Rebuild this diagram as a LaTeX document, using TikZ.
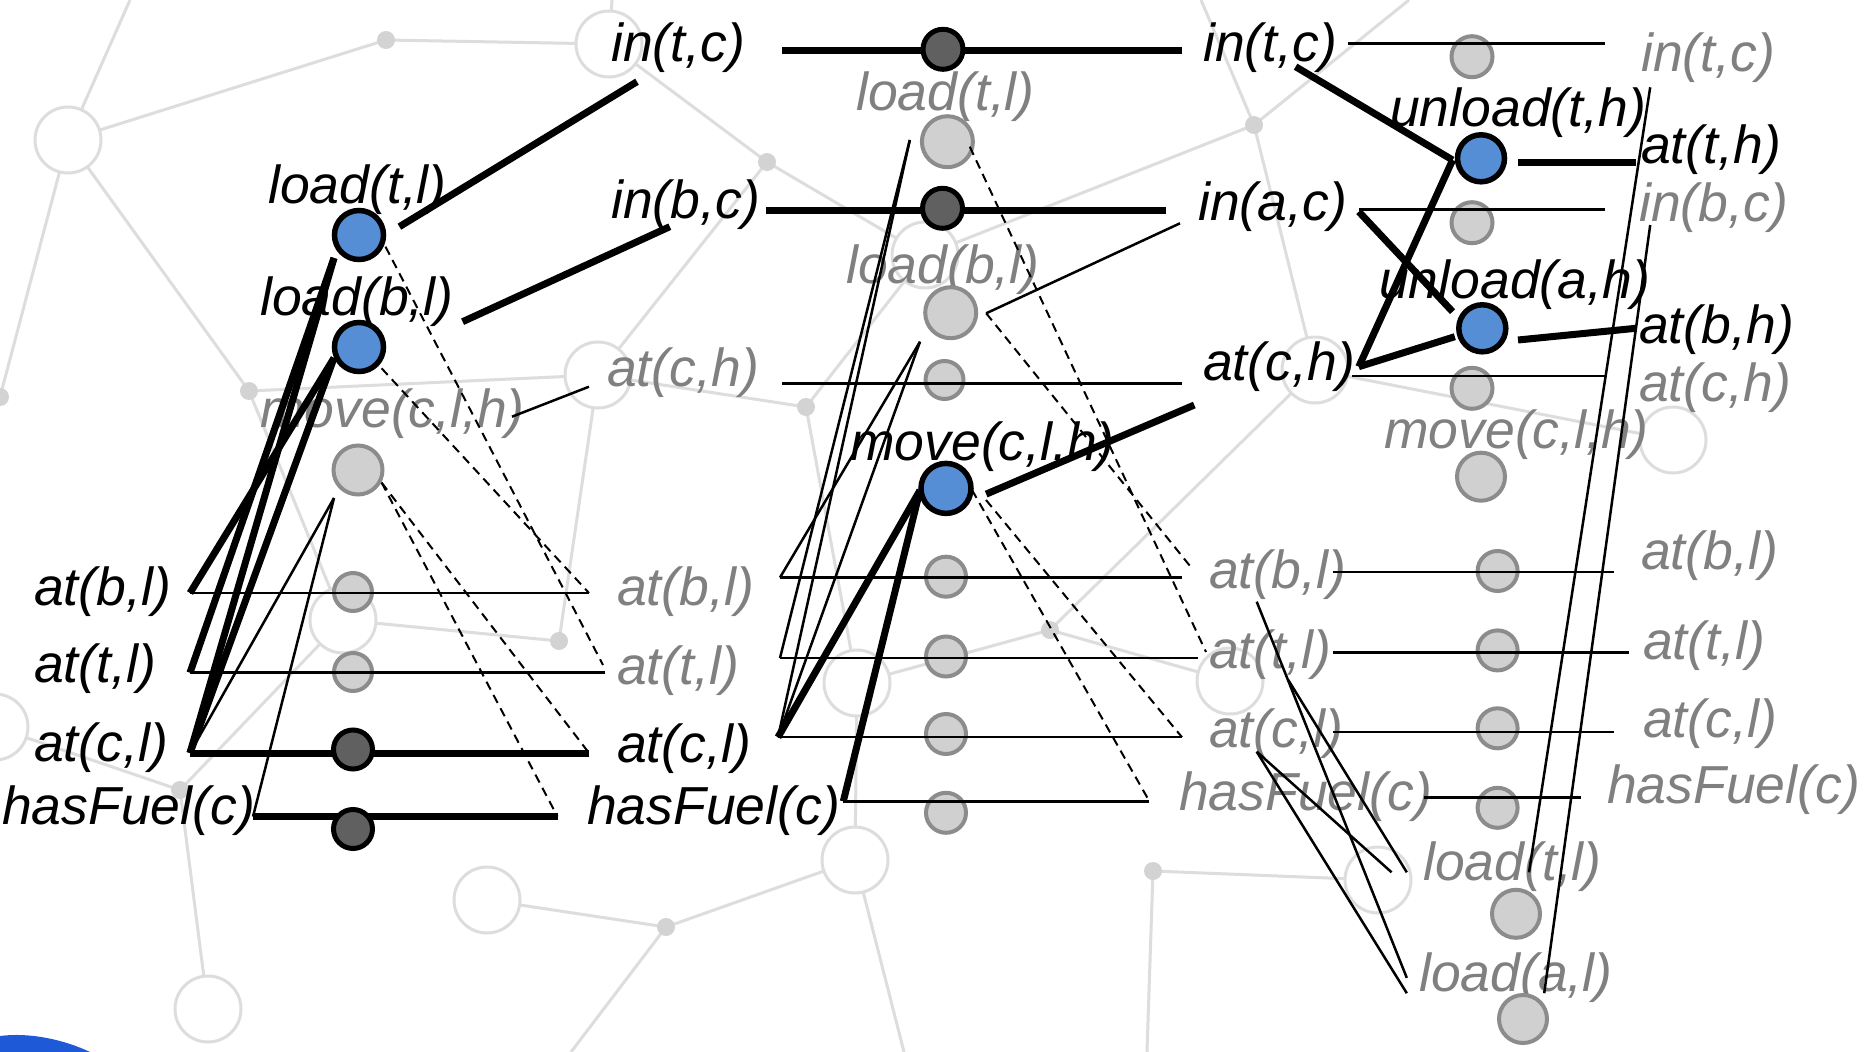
\documentclass[tikz,border=0pt]{standalone}
\usepackage{fontspec}
\setmainfont{Liberation Sans}
\usetikzlibrary{calc}
\definecolor{blueF}{RGB}{85,142,213}
\definecolor{darkF}{RGB}{96,96,96}
\definecolor{grayF}{RGB}{208,208,208}
\definecolor{grayD}{RGB}{140,140,140}
\definecolor{txtG}{RGB}{128,128,128}
\definecolor{bgC}{RGB}{221,221,221}
\definecolor{bgDot}{RGB}{211,211,211}
\definecolor{cornerBlue}{RGB}{30,90,215}
\pgfdeclarelayer{bglayer}
\pgfdeclarelayer{fglayer}
\pgfsetlayers{bglayer,main,fglayer}
\newcommand\labfont{\fontsize{53.5}{64}\selectfont\itshape}
\begin{document}
\begin{tikzpicture}[x=1pt,y=-1pt,
  lbl/.style={font=\labfont, inner sep=0pt, anchor=base west, text=black},
  glbl/.style={lbl, text=txtG},
  bluec/.style={circle, draw=black, line width=5.5pt, fill=blueF, inner sep=0pt, minimum size=#1},
  darkc/.style={circle, draw=black, line width=5pt, fill=darkF, inner sep=0pt, minimum size=#1},
  grayc/.style={circle, draw=grayD, line width=4pt, fill=grayF, inner sep=0pt, minimum size=#1},
  edgeK/.style={line width=7pt},
  edgeT/.style={line width=2.5pt},
  edgeD/.style={line width=2pt, dash pattern=on 9pt off 6pt},
  bgline/.style={draw=bgC, line width=3pt},
  bgcirc/.style={circle, draw=bgC, line width=3pt, fill=white, inner sep=0pt, minimum size=66pt},
  bgdot/.style={circle, fill=bgDot, inner sep=0pt, minimum size=18pt}
]
\useasboundingbox (0,0) rectangle (1864,1052);

% ---------------- background network ----------------
\begin{pgfonlayer}{bglayer}
\begin{scope}
\clip (0,0) rectangle (1864,1052);
\fill[white] (0,0) rectangle (1864,1052);
\coordinate (bA) at (68,140);
\coordinate (bB) at (386,40);
\coordinate (bC) at (609,44);
\coordinate (bD) at (249,391);
\coordinate (bE) at (598,375);
\coordinate (bF) at (767,162);
\coordinate (bG) at (925,255);
\coordinate (bH) at (806,407);
\coordinate (bI) at (343,620);
\coordinate (bJ) at (559,641);
\coordinate (bK) at (180,790);
\coordinate (bL) at (-5,727);
\coordinate (bM) at (208,1009);
\coordinate (bN) at (487,900);
\coordinate (bO) at (666,927);
\coordinate (bP) at (855,860);
\coordinate (bQ) at (857,683);
\coordinate (bR) at (1050,630);
\coordinate (bS) at (1254,125);
\coordinate (bT) at (1315,370);
\coordinate (bU) at (1673,440);
\coordinate (bV) at (1230,681);
\coordinate (bW) at (1153,871);
\coordinate (bY) at (1378,880);
\coordinate (bX) at (0,397);
\coordinate (bt1) at (130,0);
\coordinate (bt2) at (612,0);
\coordinate (bt3) at (1201,0);
\coordinate (bt4) at (1409,0);
\coordinate (bb1) at (571,1052);
\coordinate (bb2) at (904,1052);
\coordinate (bb3) at (1147,1052);
\path[bgline] (bt1)--(bA) (bA)--(bB) (bB)--(bC) (bA)--(bX) (bA)--(bD) (bD)--(bE)
  (bD)--(bI) (bI)--(bJ) (bJ)--(bE) (bE)--(bH) (bI)--(bK) (bL)--(bK) (bK)--(bM)
  (bN)--(bO) (bO)--(bP) (bO)--(bb1) (bP)--(bb2) (bH)--(bQ) (bQ)--(bR) (bQ)--(bP)
  (bC)--(bF) (bF)--(bE) (bF)--(bG) (bG)--(bH) (bG)--(bS) (bS)--(bt3) (bS)--(bt4)
  (bS)--(bT) (bT)--(bU) (bR)--(bT) (bR)--(bV) (bW)--(bY) (bW)--(bb3) (bt2)--(bC);
\foreach \c in {bA,bC,bE,bG,bI,bL,bM,bN,bP,bQ,bT,bU,bV,bY}
  \node[bgcirc] at (\c) {};
\foreach \c in {bB,bD,bF,bH,bJ,bK,bO,bR,bS,bW,bX}
  \node[bgdot] at (\c) {};
\fill[cornerBlue] (0,1052) -- (0,1036) .. controls (30,1032) and (65,1040) .. (90,1052) -- cycle;
\end{scope}
\end{pgfonlayer}

% ---------------- labels ----------------
% column 1
\node[lbl]  (l1-lt) at (268,203)   {load(t,l)};
\node[lbl]  (l1-lb) at (260,315)   {load(b,l)};
\node[glbl] (l1-mv) at (260,427)   {move(c,l,h)};
\node[lbl]  (p1-bl) at (34,605.5)  {at(b,l)};
\node[lbl]  (p1-tl) at (34,682.3)  {at(t,l)};
\node[lbl]  (p1-cl) at (34,761)    {at(c,l)};
\node[lbl]  (p1-hf) at (2,824.3)   {hasFuel(c)};
% column 2
\node[lbl]  (p2-tc) at (611,61.7)  {in(t,c)};
\node[lbl]  (p2-bc) at (611,218.3) {in(b,c)};
\node[glbl] (p2-ch) at (607,386.7) {at(c,h)};
\node[glbl] (p2-bl) at (617,605.5) {at(b,l)};
\node[glbl] (p2-tl) at (617,684.2) {at(t,l)};
\node[lbl]  (p2-cl) at (617,762.9) {at(c,l)};
\node[lbl]  (p2-hf) at (587,824.3) {hasFuel(c)};
\node[glbl] (l2-lt) at (856,110)   {load(t,l)};
\node[glbl] (l2-lb) at (846,283.3) {load(b,l)};
\node[lbl]  (l2-mv) at (850,460)   {move(c,l,h)};
% column 3
\node[lbl]  (p3-tc) at (1203,61.7)  {in(t,c)};
\node[lbl]  (p3-ac) at (1198,220)   {in(a,c)};
\node[lbl]  (p3-ch) at (1203,380)   {at(c,h)};
\node[glbl] (p3-bl) at (1209,588.2) {at(b,l)};
\node[glbl] (p3-tl) at (1209,668.8) {at(t,l)};
\node[glbl] (p3-cl) at (1209,747.5) {at(c,l)};
\node[glbl] (p3-hf) at (1179,810.9) {hasFuel(c)};
\node[lbl]  (l3-ut) at (1390,126.7) {unload(t,h)};
\node[lbl]  (l3-ua) at (1379,298.3) {unload(a,h)};
\node[glbl] (l3-mv) at (1384,448.3) {move(c,l,h)};
\node[glbl] (l3-lt) at (1423,880)   {load(t,l)};
\node[glbl] (l3-la) at (1419,991.3) {load(a,l)};
% column 4
\node[glbl] (p4-tc) at (1641,71.7)  {in(t,c)};
\node[lbl]  (p4-th) at (1641,163.3) {at(t,h)};
\node[glbl] (p4-bc) at (1639,221.7) {in(b,c)};
\node[lbl]  (p4-bh) at (1639,343.3) {at(b,h)};
\node[glbl] (p4-ch) at (1639,401.7) {at(c,h)};
\node[glbl] (p4-bl) at (1641,569)   {at(b,l)};
\node[glbl] (p4-tl) at (1643,659.2) {at(t,l)};
\node[glbl] (p4-cl) at (1643,737.9) {at(c,l)};
\node[glbl] (p4-hf) at (1607,803.2) {hasFuel(c)};

% ---------------- gray (inactive) circles ----------------
\node[grayc=49pt] (g1-mv) at (358,470) {};
\node[grayc=38pt] (g1-bl) at (353,592) {};
\node[grayc=38pt] (g1-tl) at (353,672) {};
\node[grayc=51pt] (g2-lt) at (947.4,141.7) {};
\node[grayc=51pt] (g2-lb) at (950.7,312.7) {};
\node[grayc=38pt] (g2-ch) at (944.5,380) {};
\node[grayc=40pt] (g2-bl) at (946,576.7) {};
\node[grayc=40pt] (g2-tl) at (946,656.5) {};
\node[grayc=40pt] (g2-cl) at (946,734) {};
\node[grayc=40pt] (g2-hf) at (946,812.8) {};
\node[grayc=41pt] (g3-tc) at (1472,56.7) {};
\node[grayc=41pt] (g3-bc) at (1472,222.7) {};
\node[grayc=41pt] (g3-ch) at (1472,388.3) {};
\node[grayc=48pt] (g3-mv) at (1481,476.7) {};
\node[grayc=40pt] (g3-bl) at (1497.6,571) {};
\node[grayc=40pt] (g3-tl) at (1497.6,650.4) {};
\node[grayc=40pt] (g3-cl) at (1497.6,728.3) {};
\node[grayc=40pt] (g3-hf) at (1497.6,807.8) {};
\node[grayc=48pt] (g3-lt) at (1516,913.8) {};
\node[grayc=48pt] (g3-la) at (1523,1019) {};

% ---------------- active circles (front layer) ----------------
\begin{pgfonlayer}{fglayer}
\node[bluec=49pt] (b1-lt) at (359,235) {};
\node[bluec=49pt] (b1-lb) at (359,347) {};
\node[bluec=50pt] (b2-mv) at (946,488.4) {};
\node[bluec=47pt] (b3-ut) at (1481,158.3) {};
\node[bluec=47pt] (b3-ua) at (1482.3,328.3) {};
\node[darkc=39pt] (d1-cl) at (353,749.5) {};
\node[darkc=39pt] (d1-hf) at (353,829) {};
\node[darkc=40pt] (d2-tc) at (943,49.3) {};
\node[darkc=40pt] (d2-bc) at (942.5,208.3) {};
\end{pgfonlayer}

% ---------------- connector end points ----------------
% column 1
\coordinate (e1-bl-w) at (190,593);    \coordinate (e1-bl-e) at (589,593);
\coordinate (e1-tl-w) at (190,672.7);  \coordinate (e1-tl-e) at (605,672.7);
\coordinate (e1-cl-w) at (190,753);    \coordinate (e1-cl-e) at (589,753);
\coordinate (e1-hf-w) at (253,816.6);  \coordinate (e1-hf-e) at (557.5,816.6);
\coordinate (a1-lt-in) at (334,258);
\coordinate (a1-lb-in) at (334,358);
\coordinate (a1-mv-in) at (334,498);
\coordinate (a1-lt-out) at (399.4,226.7);
\coordinate (a1-lb-out) at (462.6,321.7);
\coordinate (a1-mv-out) at (512,416.7);
\coordinate (a1-lt-del) at (385.5,246.7);
\coordinate (a1-lb-del) at (381.6,368.3);
\coordinate (a1-mv-del) at (381.6,482.6);
\coordinate (d1-tl) at (603,665);
\coordinate (t2-tc) at (637,81.7);
\coordinate (t2-bc) at (669.8,226.7);
\coordinate (t2-ch) at (589,386.7);
% column 2
\coordinate (e2-tc-w) at (782,50);      \coordinate (e2-tc-e) at (1182,50);
\coordinate (e2-bc-w) at (765.7,210);   \coordinate (e2-bc-e) at (1165.8,210);
\coordinate (e2-ch-w) at (782,383.3);   \coordinate (e2-ch-e) at (1182,383.3);
\coordinate (e2-bl-w) at (780,577.5);   \coordinate (e2-bl-e) at (1182,577.5);
\coordinate (e2-tl-w) at (780,658);     \coordinate (e2-tl-e) at (1198.4,658);
\coordinate (e2-cl-w) at (778,737.2);   \coordinate (e2-cl-e) at (1182,737.2);
\coordinate (e2-hf-w) at (843.3,801.3); \coordinate (e2-hf-e) at (1149.4,801.3);
\coordinate (a2-lt-in) at (909.8,140);
\coordinate (a2-lb-in) at (920,341.7);
\coordinate (a2-mv-in) at (920,490.3);
\coordinate (a2-mv-out) at (986.2,494.1);
\coordinate (a2-lb-out) at (986.2,313.3);
\coordinate (a2-lt-del) at (969.8,146.7);
\coordinate (a2-mv-del1) at (972,490);
\coordinate (a2-mv-del2) at (986,500);
\coordinate (d2-tl) at (1206,652);
\coordinate (d2-bl) at (1190,566);
\coordinate (t3-ch) at (1194.3,405);
\coordinate (t3-ac) at (1180,223.3);
% column 3
\coordinate (e3-tc-w) at (1348,43.3);    \coordinate (e3-tc-e) at (1605,43.3);
\coordinate (e3-ac-w) at (1358.8,209.3); \coordinate (e3-ac-e) at (1605,209.3);
\coordinate (e3-ch-w) at (1352.3,376);   \coordinate (e3-ch-e) at (1605,376);
\coordinate (e3-bl-w) at (1332.7,572.1); \coordinate (e3-bl-e) at (1614,572.1);
\coordinate (e3-tl-w) at (1332.7,652.3); \coordinate (e3-tl-e) at (1629.3,652.3);
\coordinate (e3-cl-w) at (1332.7,732.2); \coordinate (e3-cl-e) at (1614,732.2);
\coordinate (e3-hf-w) at (1424.3,797.4); \coordinate (e3-hf-e) at (1581.3,797.4);
\coordinate (s3-tc) at (1295.6,66.7);
\coordinate (s3-ac) at (1358.8,211.7);
\coordinate (s3-ch) at (1358.8,366.7);
\coordinate (a3-ut-in) at (1452.6,160);
\coordinate (a3-ua-in) at (1452.6,311.7);
\coordinate (a3-ua-in2) at (1454.8,336.7);
\coordinate (a3-ut-out) at (1518,162.3);
\coordinate (a3-ua-out) at (1518,340);
\coordinate (t4-th) at (1635.8,162.3);
\coordinate (t4-bh) at (1635.8,328.3);
\coordinate (a3-lt-out) at (1529,872.3);
\coordinate (a3-la-out) at (1544.2,993.2);
\coordinate (t4-tc) at (1650.2,87.3);
\coordinate (t4-bc) at (1650.2,225);
\coordinate (s3-bl) at (1256.7,601.7);
\coordinate (s3-tl) at (1288.3,680);
\coordinate (s3-cl) at (1256.7,751.7);
\coordinate (a3-lt-in) at (1406.8,872.3);
\coordinate (a3-lt-in2) at (1391.6,872.3);
\coordinate (a3-la-in) at (1406.8,977.9);
\coordinate (a3-la-in2) at (1406.8,993.2);

% ---------------- connectors: column 1 ----------------
\draw[edgeT] (e1-bl-w) -- (e1-bl-e);
\draw[edgeT] (e1-tl-w) -- (e1-tl-e);
\draw[edgeK] (e1-cl-w) -- (e1-cl-e);
\draw[edgeK] (e1-hf-w) -- (e1-hf-e);
\draw[edgeK] (e1-bl-w) -- (a1-lb-in);
\draw[edgeK] (e1-cl-w) -- (a1-lb-in);
\draw[edgeK] (e1-tl-w) -- (a1-lt-in);
\draw[edgeK] (e1-cl-w) -- (a1-lt-in);
\draw[edgeT] (e1-cl-w) -- (a1-mv-in);
\draw[edgeT] (e1-hf-w) -- (a1-mv-in);
\draw[edgeD] (a1-lt-del) -- (d1-tl);
\draw[edgeD] (a1-lb-del) -- (e1-bl-e);
\draw[edgeD] (a1-mv-del) -- (e1-cl-e);
\draw[edgeD] (a1-mv-del) -- (e1-hf-e);
\draw[edgeK] (a1-lt-out) -- (t2-tc);
\draw[edgeK] (a1-lb-out) -- (t2-bc);
\draw[edgeT] (a1-mv-out) -- (t2-ch);

% ---------------- connectors: column 2 ----------------
\draw[edgeK] (e2-tc-w) -- (e2-tc-e);
\draw[edgeK] (e2-bc-w) -- (e2-bc-e);
\draw[edgeT] (e2-ch-w) -- (e2-ch-e);
\draw[edgeT] (e2-bl-w) -- (e2-bl-e);
\draw[edgeT] (e2-tl-w) -- (e2-tl-e);
\draw[edgeT] (e2-cl-w) -- (e2-cl-e);
\draw[edgeT] (e2-hf-w) -- (e2-hf-e);
\draw[edgeT] (a2-lt-in) -- (e2-tl-w);
\draw[edgeT] (a2-lt-in) -- (e2-cl-w);
\draw[edgeT] (a2-lb-in) -- (e2-bl-w);
\draw[edgeT] (a2-lb-in) -- (e2-cl-w);
\draw[edgeK] (a2-mv-in) -- (e2-cl-w);
\draw[edgeK] (a2-mv-in) -- (e2-hf-w);
\draw[edgeK] (a2-mv-out) -- (t3-ch);
\draw[edgeT] (a2-lb-out) -- (t3-ac);
\draw[edgeD] (a2-lt-del) -- (d2-tl);
\draw[edgeD] (a2-lb-out) -- (d2-bl);
\draw[edgeD] (a2-mv-del1) -- (e2-hf-e);
\draw[edgeD] (a2-mv-del2) -- (e2-cl-e);

% ---------------- connectors: column 3 ----------------
\draw[edgeT] (e3-tc-w) -- (e3-tc-e);
\draw[edgeT] (e3-ac-w) -- (e3-ac-e);
\draw[edgeT] (e3-ch-w) -- (e3-ch-e);
\draw[edgeT] (e3-bl-w) -- (e3-bl-e);
\draw[edgeT] (e3-tl-w) -- (e3-tl-e);
\draw[edgeT] (e3-cl-w) -- (e3-cl-e);
\draw[edgeT] (e3-hf-w) -- (e3-hf-e);
\draw[edgeK] (s3-tc) -- (a3-ut-in);
\draw[edgeK] (s3-ac) -- (a3-ua-in);
\draw[edgeK] (s3-ch) -- (a3-ut-in);
\draw[edgeK] (s3-ch) -- (a3-ua-in2);
\draw[edgeK] (a3-ut-out) -- (t4-th);
\draw[edgeK] (a3-ua-out) -- (t4-bh);
\draw[edgeT] (a3-lt-out) -- (t4-tc);
\draw[edgeT] (a3-la-out) -- (t4-bc);
\draw[edgeT] (s3-bl) -- (a3-la-in);
\draw[edgeT] (s3-tl) -- (a3-lt-in);
\draw[edgeT] (s3-cl) -- (a3-lt-in2);
\draw[edgeT] (s3-cl) -- (a3-la-in2);
\end{tikzpicture}
\end{document}
